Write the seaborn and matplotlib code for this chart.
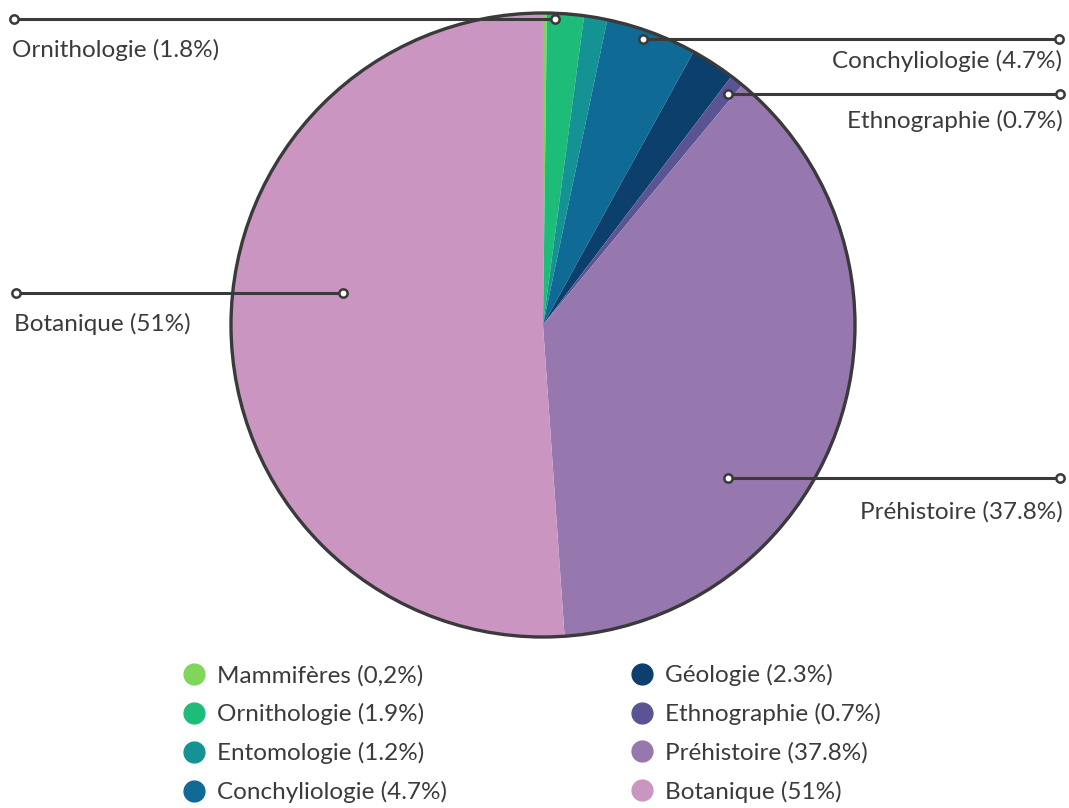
import numpy as np
import seaborn as sns
import matplotlib.pyplot as plt
from matplotlib.patches import Circle
from matplotlib.lines import Line2D

# Collection shares (%), clockwise from the top
categories = ['Mammifères', 'Ornithologie', 'Entomologie', 'Conchyliologie',
              'Géologie', 'Ethnographie', 'Préhistoire', 'Botanique']
shares = [0.2, 1.9, 1.2, 4.7, 2.3, 0.7, 37.8, 51]
legend_labels = ['Mammifères (0,2%)', 'Ornithologie (1.9%)', 'Entomologie (1.2%)',
                 'Conchyliologie (4.7%)', 'Géologie (2.3%)', 'Ethnographie (0.7%)',
                 'Préhistoire (37.8%)', 'Botanique (51%)']
colors = ['#7fd65a', '#1dbd79', '#159293', '#0f6a96',
          '#0c3f6c', '#5a5494', '#9677ae', '#cb95c1']

# callouts: category, label text
callout_cats = ['Ornithologie', 'Conchyliologie', 'Ethnographie', 'Préhistoire', 'Botanique']
callout_texts = ['Ornithologie (1.8%)', 'Conchyliologie (4.7%)', 'Ethnographie (0.7%)',
                 'Préhistoire (37.8%)', 'Botanique (51%)']

sns.set_theme(style='white')
plt.rcParams['font.family'] = ['Lato', 'DejaVu Sans']
txt_color = '#3b3b3b'
line_color = '#3a3a3a'

W, H = 1069, 808
fig = plt.figure(figsize=(W / 100, H / 100), dpi=100)
ax = fig.add_axes([0, 0, 1, 1])

cx, cy, R = 543, H - 325, 312
wedges, _ = ax.pie(shares, colors=colors, startangle=90, counterclock=False,
                   center=(cx, cy), radius=R, frame=True,
                   wedgeprops=dict(linewidth=0, edgecolor='none'))
ax.set_xlim(0, W)
ax.set_ylim(0, H)
ax.set_aspect('equal')
ax.axis('off')
ax.add_patch(Circle((cx, cy), R, fill=False, edgecolor=line_color, lw=2.4, zorder=3))

# callout layout: fraction along wedge (clockwise), radius fraction, line end x, side, text y offset
layout = {
    'Ornithologie':   (0.22, 0.98, 14, 'left', 30),
    'Conchyliologie': (0.44, 0.97, 1059, 'right', 21),
    'Ethnographie':   (0.60, 0.95, 1060, 'right', 27),
    'Préhistoire':    (0.66, 0.77, 1060, 'right', 33),
    'Botanique':      (0.56, 0.65, 16, 'left', 31),
}

for cat, text in zip(callout_cats, callout_texts):
    w = wedges[categories.index(cat)]
    frac, rf, x_end, side, dy = layout[cat]
    ang = np.deg2rad(w.theta2 - frac * (w.theta2 - w.theta1))
    x0 = cx + rf * R * np.cos(ang)
    y0 = cy + rf * R * np.sin(ang)
    ax.plot([x0, x_end], [y0, y0], color=line_color, lw=2.2, zorder=4,
            solid_capstyle='butt')
    ax.plot([x0, x_end], [y0, y0], 'o', ms=6, mfc='white', mec=line_color,
            mew=1.8, zorder=5)
    tx = x_end - 2 if side == 'left' else x_end + 3
    ax.text(tx, y0 - dy, text, ha=side, va='center', fontsize=17.5,
            color=txt_color, zorder=6)

handles = [Line2D([], [], marker='o', ls='none', ms=15, mfc=c, mec=c) for c in colors]
leg = fig.legend(handles, legend_labels, ncol=2, frameon=False,
                 loc='upper left', bbox_to_anchor=(182 / W, 1 - 664 / H),
                 fontsize=17.5, labelcolor=txt_color, handletextpad=0.45,
                 columnspacing=7.5, labelspacing=0.7, handlelength=1.0,
                 borderpad=0, borderaxespad=0)

fig.savefig('out.png', dpi=100)
